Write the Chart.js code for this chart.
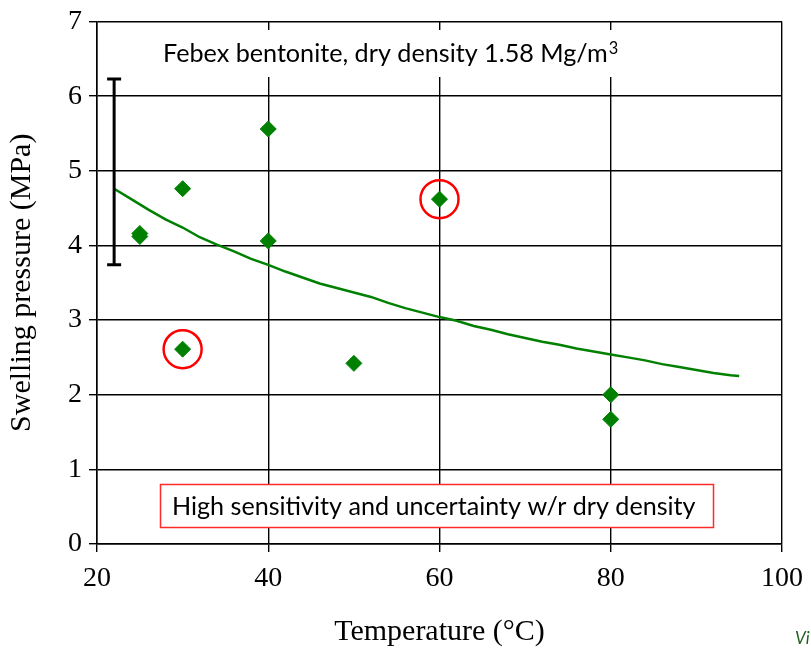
<!DOCTYPE html>
<html>
<head>
<meta charset="utf-8">
<script src="https://cdn.jsdelivr.net/npm/chart.js@4.4.1/dist/chart.umd.min.js"></script>
<style>
  html, body { margin: 0; padding: 0; background: #fff; }
  #wrap { width: 811px; height: 650px; position: relative; }
</style>
</head>
<body>
<div id="wrap"><canvas id="c" width="811" height="650"></canvas></div>
<script>
// ---- data ----
const xTickValues = [20, 40, 60, 80, 100];
const yTickValues = [0, 1, 2, 3, 4, 5, 6, 7];

// measured swelling pressures
const testTemps     = [25, 25, 30, 30, 40, 40, 50, 60, 80, 80];
const testPressures = [4.16, 4.12, 4.76, 2.61, 5.56, 4.06, 2.42, 4.62, 2.00, 1.67];

// highlighted (circled) tests
const circledTemps     = [30, 60];
const circledPressures = [2.61, 4.62];

// fitted trend curve
const curveTemps = [22, 24, 26, 28, 30, 32, 34, 36, 38, 40, 42, 44, 46, 48, 50, 52, 54, 56, 58, 60,
                    62, 64, 66, 68, 70, 72, 74, 76, 78, 80, 82, 84, 86, 88, 90, 92, 94, 95];
const curvePressures = [4.76, 4.62, 4.48, 4.35, 4.24, 4.11, 4.01, 3.92, 3.82, 3.74, 3.65, 3.57, 3.49, 3.43, 3.37, 3.31, 3.23, 3.16, 3.10, 3.04,
                        2.99, 2.92, 2.87, 2.81, 2.76, 2.71, 2.67, 2.62, 2.58, 2.54, 2.50, 2.46, 2.41, 2.37, 2.33, 2.29, 2.26, 2.25];

// uncertainty bar
const errorBarTemp = [22, 22];
const errorBarRange = [6.23, 3.74];

const titleText = 'Febex bentonite, dry density 1.58 Mg/m';
const titleSup = '3';
const noteText = 'High sensitivity and uncertainty w/r dry density';
const cornerText = 'Vi';
const xTitle = 'Temperature (°C)';
const yTitle = 'Swelling pressure (MPa)';

// ---- helpers ----
const pts = (xs, ys) => xs.map((x, i) => ({x, y: ys[i]}));
const GREEN = '#008000';
const CAL = 'Lato, "Open Sans", sans-serif';
const SERIF = '"Liberation Serif", "Times New Roman", serif';

function fitSize(ctx, text, family, targetW, base) {
  ctx.font = base + 'px ' + family;
  const w = ctx.measureText(text).width;
  return base * targetW / w;
}

const annotations = {
  id: 'annotations',
  beforeDatasetsDraw(chart) {
    const ctx = chart.ctx;
    ctx.save();
    ctx.fillStyle = '#fff';
    ctx.fillRect(150, 30, 480, 47);
    ctx.fillRect(160, 484, 554, 44);
    ctx.strokeStyle = '#ff2a2a';
    ctx.lineWidth = 1.5;
    ctx.strokeRect(160.5, 484.5, 553, 43);
    ctx.restore();
  },
  afterDraw(chart) {
    const ctx = chart.ctx;
    ctx.save();
    ctx.fillStyle = '#000';
    ctx.textBaseline = 'alphabetic';
    ctx.textAlign = 'left';
    const s1 = fitSize(ctx, titleText, CAL, 445, 20);
    ctx.font = s1 + 'px ' + CAL;
    ctx.fillText(titleText, 163, 62);
    const w1 = ctx.measureText(titleText).width;
    ctx.font = (s1 * 0.65) + 'px ' + CAL;
    ctx.fillText(titleSup, 163 + w1 + 1, 54);
    const s2 = fitSize(ctx, noteText, CAL, 524, 20);
    ctx.font = s2 + 'px ' + CAL;
    ctx.fillText(noteText, 172, 515);
    ctx.fillStyle = '#1f5f1f';
    ctx.font = 'italic 17px ' + CAL;
    ctx.fillText(cornerText, 795, 644);
    ctx.restore();
  }
};

const ctx = document.getElementById('c').getContext('2d');
new Chart(ctx, {
  type: 'scatter',
  data: {
    datasets: [
      {
        label: 'trend',
        data: pts(curveTemps, curvePressures),
        showLine: true,
        borderColor: GREEN,
        borderWidth: 2.5,
        pointRadius: 0,
        tension: 0,
        order: 4
      },
      {
        label: 'uncertainty',
        data: pts(errorBarTemp, errorBarRange),
        showLine: true,
        borderColor: '#000',
        borderWidth: 3,
        pointStyle: 'line',
        pointRadius: 7,
        pointBorderWidth: 3,
        pointBorderColor: '#000',
        order: 3
      },
      {
        label: 'tests',
        data: pts(testTemps, testPressures),
        pointStyle: 'rectRot',
        pointRadius: 8,
        pointBorderWidth: 1,
        pointBackgroundColor: GREEN,
        pointBorderColor: GREEN,
        order: 2
      },
      {
        label: 'circled',
        data: pts(circledTemps, circledPressures),
        pointStyle: 'circle',
        pointRadius: 19,
        pointBorderWidth: 2.5,
        pointBorderColor: '#ff0000',
        pointBackgroundColor: 'rgba(0,0,0,0)',
        order: 1
      }
    ]
  },
  options: {
    responsive: false,
    animation: false,
    events: [],
    layout: { padding: { left: 0, right: 29, top: 20, bottom: 0 } },
    plugins: { legend: { display: false }, tooltip: { enabled: false }, title: { display: false } },
    scales: {
      x: {
        type: 'linear',
        min: 20, max: 100,
        afterBuildTicks: s => { s.ticks = xTickValues.map(v => ({value: v})); },
        ticks: { color: '#000', font: { family: SERIF, size: 28 }, padding: 10, maxRotation: 0 },
        grid: { color: '#000', lineWidth: 1.4, tickLength: 8, drawOnChartArea: true },
        border: { color: '#000', width: 1.5 },
        title: { display: true, text: xTitle, color: '#000', font: { family: SERIF, size: 30 }, padding: { top: 0, bottom: 0 } },
        afterFit: s => { s.height = 106; s.paddingLeft = 0; s.paddingRight = 0; }
      },
      y: {
        type: 'linear',
        min: 0, max: 7,
        afterBuildTicks: s => { s.ticks = yTickValues.map(v => ({value: v})); },
        ticks: { color: '#000', font: { family: SERIF, size: 28 }, padding: 7 },
        grid: { color: '#000', lineWidth: 1.4, tickLength: 8 },
        border: { color: '#000', width: 1.5 },
        title: { display: true, text: yTitle, color: '#000', font: { family: SERIF, size: 30 }, padding: { top: 4, bottom: 0 } },
        afterFit: s => { s.width = 97; s.paddingTop = 0; s.paddingBottom = 0; }
      }
    }
  },
  plugins: [annotations]
});
</script>
</body>
</html>
